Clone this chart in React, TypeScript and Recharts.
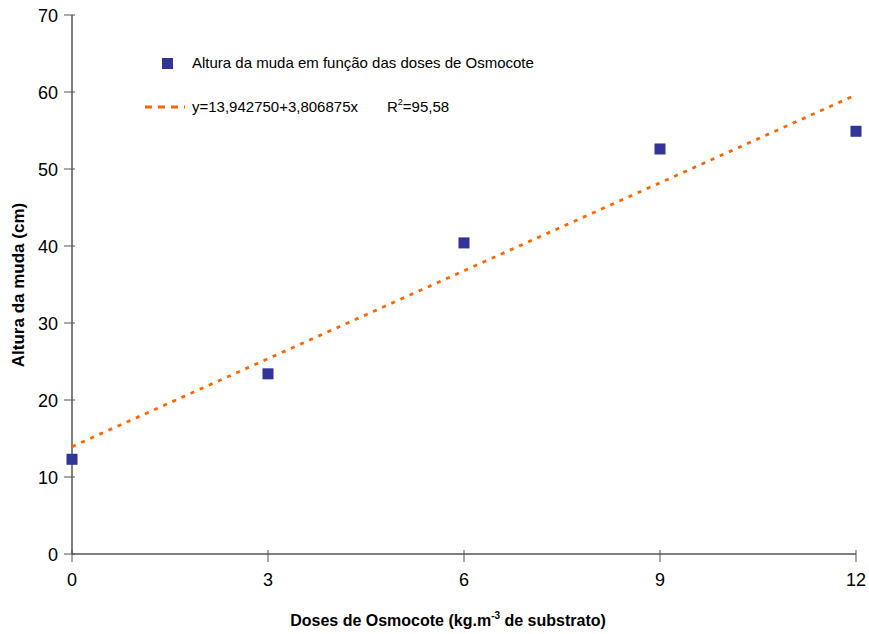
import { ScatterChart, Scatter, XAxis, YAxis } from 'recharts'

// doses de Osmocote (kg.m-3) e altura média da muda (cm)
const doses = [0, 3, 6, 9, 12]
const altura = [12.3, 23.4, 40.4, 52.6, 54.9]
// reta ajustada y = 13,942750 + 3,806875x, extremos
const trendX = [0, 12]
const trendY = [13.94, 59.63]
const xTicks = [0, 3, 6, 9, 12]
const yTicks = [0, 10, 20, 30, 40, 50, 60, 70]

const points = doses.map((d, i) => ({ x: d, y: altura[i] }))
const trend = trendX.map((d, i) => ({ x: d, y: trendY[i] }))

const FONT = '"Liberation Sans", Arial, sans-serif'
const AXIS = '#555'
const ORANGE = '#FF6600'
const NAVY = '#333399'

const XTick = (props: any) => {
  const { x, y, payload } = props
  return (
    <g>
      <line x1={x} x2={x} y1={y - 6} y2={y + 6} stroke={AXIS} strokeWidth={1} />
      <text x={x} y={y + 30} textAnchor="middle" fontSize={18} fontFamily={FONT} fill="#000">{payload.value}</text>
    </g>
  )
}

const YTick = (props: any) => {
  const { x, y, payload } = props
  return (
    <g>
      <line x1={x - 6} x2={x + 5} y1={y} y2={y} stroke={AXIS} strokeWidth={1} />
      <text x={x - 12} y={y + 6.5} textAnchor="end" fontSize={18} fontFamily={FONT} fill="#000">{payload.value}</text>
    </g>
  )
}

const Square = (props: any) => {
  const { cx, cy } = props
  return <rect x={cx - 5.5} y={cy - 5.5} width={11} height={11} fill={NAVY} />
}

const sup = { fontSize: 9, position: 'relative' as const, top: -7, lineHeight: 0, verticalAlign: 'baseline' }

export default function App() {
  return (
    <div style={{ position: 'fixed', left: 0, top: 0, width: 869, height: 634, fontFamily: FONT, background: '#fff' }}>
      <ScatterChart width={869} height={634} margin={{ top: 15, right: 13, left: 8, bottom: 40 }}>
        <XAxis type="number" dataKey="x" domain={[0, 12]} ticks={xTicks} height={40}
               axisLine={{ stroke: AXIS, strokeWidth: 1.5 }} tickLine={false} tickSize={0} tick={<XTick />} />
        <YAxis type="number" dataKey="y" domain={[0, 70]} ticks={yTicks} width={64}
               axisLine={{ stroke: AXIS, strokeWidth: 1.5 }} tickLine={false} tickSize={0} tick={<YTick />} />
        <Scatter data={trend} line={{ stroke: ORANGE, strokeWidth: 2.8, strokeDasharray: '4 6' }}
                 shape={() => null} isAnimationActive={false} />
        <Scatter data={points} shape={<Square />} isAnimationActive={false} />
      </ScatterChart>

      <div style={{ position: 'absolute', left: 19, top: 285, transform: 'translate(-50%, -50%) rotate(-90deg)',
                    whiteSpace: 'nowrap', fontWeight: 'bold', fontSize: 17 }}>
        Altura da muda (cm)
      </div>
      <div style={{ position: 'absolute', left: 448, top: 621, transform: 'translate(-50%, -50%)',
                    whiteSpace: 'nowrap', fontWeight: 'bold', fontSize: 16 }}>
        Doses de Osmocote (kg.m<span style={{ ...sup, fontSize: 10 }}>-3</span> de substrato)
      </div>

      <div style={{ position: 'absolute', left: 162, top: 58, width: 11, height: 11, background: NAVY }} />
      <div style={{ position: 'absolute', left: 192, top: 54, fontSize: 15, lineHeight: '18px', whiteSpace: 'nowrap' }}>
        Altura da muda em função das doses de Osmocote
      </div>
      <svg style={{ position: 'absolute', left: 145, top: 104 }} width={40} height={6}>
        <line x1={0} x2={40} y1={3} y2={3} stroke={ORANGE} strokeWidth={3} strokeDasharray="7 6" />
      </svg>
      <div style={{ position: 'absolute', left: 192, top: 98, fontSize: 15, lineHeight: '18px', whiteSpace: 'nowrap' }}>
        y=13,942750+3,806875x
      </div>
      <div style={{ position: 'absolute', left: 387, top: 98, fontSize: 15, lineHeight: '18px', whiteSpace: 'nowrap' }}>
        R<span style={sup}>2</span>=95,58
      </div>
    </div>
  )
}
